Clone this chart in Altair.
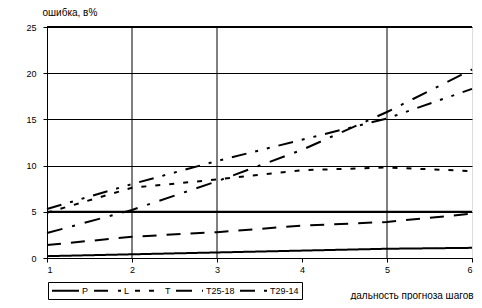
import altair as alt
import pandas as pd

steps = [1, 2, 3, 4, 5, 6]
series_names = ["P", "L", "T", "T25-18", "T29-14"]
P = [0.2, 0.4, 0.6, 0.8, 1.0, 1.1]
L = [1.4, 2.3, 2.8, 3.5, 3.9, 4.8]
T = [4.9, 7.6, 8.5, 9.5, 9.8, 9.4]
T25_18 = [2.7, 5.2, 8.3, 11.7, 15.8, 20.4]
T29_14 = [5.3, 8.0, 10.5, 12.8, 15.1, 18.3]
y_ticks = [0, 5, 10, 15, 20, 25]
x_grid = [2, 3, 5]
thick_y = [5, 25]
dashes = [[1, 0], [14, 10], [5, 9], [16, 10, 3, 10], [15, 9, 3, 9, 3, 9]]

rows = []
for name, vals in zip(series_names, [P, L, T, T25_18, T29_14]):
    for s, v in zip(steps, vals):
        rows.append({"step": s, "value": v, "series": name})
df = pd.DataFrame(rows)

FONT = "Liberation Sans"

xscale = alt.Scale(domain=[1, 6], nice=False, zero=False)
yscale = alt.Scale(domain=[0, 25], nice=False)

x_axis = alt.Axis(values=steps, format="d", grid=False, domainColor="black",
                  tickColor="black", tickSize=4, labelPadding=3,
                  labelFontSize=9, labelColor="black",
                  title="дальность прогноза шагов", titleFontSize=10,
                  titleFontWeight="normal", titleColor="black",
                  titleAnchor="end", titleAlign="right", titleBaseline="middle",
                  titleX=426, titleY=37)
y_axis = alt.Axis(values=y_ticks, grid=True, gridColor="black", gridOpacity=1,
                  domainColor="black", tickColor="black", tickSize=4,
                  labelPadding=7, labelFontSize=9, labelColor="black",
                  title="ошибка, в%", titleAngle=0, titleFontSize=10,
                  titleFontWeight="normal", titleColor="black",
                  titleAlign="left", titleBaseline="middle",
                  titleX=-5, titleY=-15)

lines = alt.Chart(df).mark_line(color="black", strokeWidth=2, strokeCap="butt").encode(
    x=alt.X("step:Q", scale=xscale, axis=x_axis, title="дальность прогноза шагов"),
    y=alt.Y("value:Q", scale=yscale, axis=y_axis, title="ошибка, в%"),
    strokeDash=alt.StrokeDash(
        "series:N",
        scale=alt.Scale(domain=series_names, range=dashes),
        sort=series_names,
        legend=alt.Legend(title=None, orient="none", legendX=1, legendY=255,
                          direction="horizontal", columns=5,
                          symbolType="M-1,0H5", symbolSize=81,
                          symbolStrokeWidth=2, symbolStrokeColor="black",
                          symbolFillColor="transparent",
                          labelFontSize=9, labelColor="black", labelOffset=20,
                          columnPadding=1, padding=3, strokeColor="black",
                          fillColor="white"),
    ),
    detail="series:N",
)

vgrid = alt.Chart(pd.DataFrame({"g": x_grid})).mark_rule(color="black", strokeWidth=1).encode(
    x=alt.X("g:Q", scale=xscale, axis=x_axis, title="дальность прогноза шагов")
)
hthick = alt.Chart(pd.DataFrame({"h": thick_y})).mark_rule(color="black", strokeWidth=2).encode(
    y=alt.Y("h:Q", scale=yscale, axis=y_axis, title="ошибка, в%")
)

chart = alt.layer(vgrid, hthick, lines).properties(
    width=425, height=231,
    padding={"left": 39, "top": 19, "right": 2, "bottom": 42},
    autosize=alt.AutoSizeParams(type="none"),
    background="white",
).configure_view(stroke=None).configure(font=FONT).configure_legend(
    strokeColor="black", strokeWidth=1
)

chart.save("out.html", embed_options={"renderer": "svg", "actions": False})
